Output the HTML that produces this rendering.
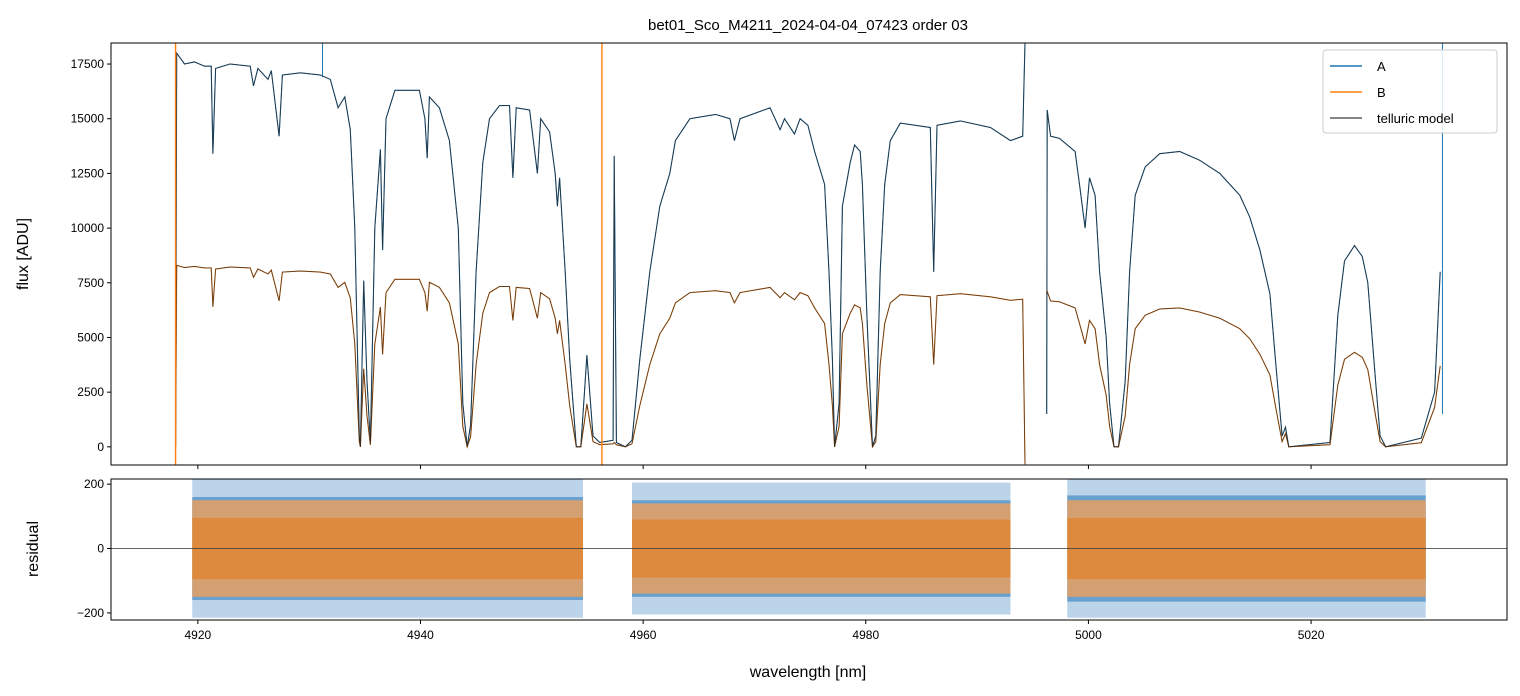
<!DOCTYPE html>
<html><head><meta charset="utf-8">
<style>
html,body{margin:0;padding:0;background:#fff;}
svg{display:block;font-family:"Liberation Sans","DejaVu Sans",sans-serif;}
</style></head>
<body>
<svg id="chart" width="1520" height="696" viewBox="0 0 1520 696">
<rect width="1520" height="696" fill="#fff"/>
<text x="808" y="30" text-anchor="middle" font-size="15" fill="#000">bet01_Sco_M4211_2024-04-04_07423  order 03</text>
<text transform="translate(28,254) rotate(-90)" text-anchor="middle" font-size="16" fill="#000">flux [ADU]</text>
<text transform="translate(38,549) rotate(-90)" text-anchor="middle" font-size="16" fill="#000">residual</text>
<text x="808" y="677" text-anchor="middle" font-size="16" fill="#000">wavelength [nm]</text>
<g id="main"></g>
<g id="res"></g>
<g id="legend">
<rect x="1323" y="50" width="174" height="83" fill="#fff" fill-opacity="0.85" stroke="#ccc" rx="3"/>
<line x1="1330" y1="66" x2="1362" y2="66" stroke="#1f77b4" stroke-width="1.5"/>
<text x="1377" y="71" font-size="13">A</text>
<line x1="1330" y1="92" x2="1362" y2="92" stroke="#ff7f0e" stroke-width="1.5"/>
<text x="1377" y="97" font-size="13">B</text>
<line x1="1330" y1="118" x2="1362" y2="118" stroke="#333" stroke-opacity="0.8" stroke-width="1.5"/>
<text x="1377" y="123" font-size="13">telluric model</text>
</g>
</svg>
<script>
const wl = [4918.0,4918.1,4918.8,4919.7,4920.6,4921.2,4921.35,4921.6,4922.9,4924.7,
4925.0,4925.4,4926.3,4926.6,4927.3,4927.6,4929.2,4931.0,4931.9,4932.6,
4933.2,4933.7,4934.1,4934.5,4934.6,4934.9,4935.2,4935.5,4935.9,4936.4,
4936.6,4936.9,4937.7,4939.9,4940.4,4940.6,4940.8,4941.7,4942.6,4943.4,
4943.8,4944.2,4944.5,4945.0,4945.6,4946.2,4947.1,4948.0,4948.3,4948.6,
4949.8,4950.5,4950.8,4951.6,4952.1,4952.3,4952.5,4953.0,4953.4,4954.0,
4954.4,4954.8,4954.95,4955.2,4955.5,4956.1,4957.3,4957.4,4957.6,4958.4,
4959.0,4959.7,4960.6,4961.5,4962.4,4962.9,4964.2,4966.5,4967.8,4968.2,
4968.7,4971.4,4972.3,4972.7,4973.6,4974.1,4974.8,4975.4,4976.3,4976.7,
4977.0,4977.2,4977.6,4977.9,4978.6,4979.0,4979.5,4979.7,4980.1,4980.6,
4980.9,4981.3,4981.7,4982.2,4983.1,4985.8,4986.1,4986.4,4988.5,4991.2,
4993.0,4994.1,4994.3,4995.0,4996.25,4996.3,4996.6,4997.4,4998.8,4999.2,
4999.7,5000.1,5000.6,5001.0,5001.6,5001.9,5002.3,5002.7,5003.3,5003.7,
5004.2,5005.1,5006.4,5008.2,5010.0,5011.8,5013.6,5014.5,5015.4,5016.3,
5016.8,5017.4,5017.7,5018.0,5021.7,5022.4,5023.0,5023.9,5024.6,5025.1,
5025.8,5026.2,5026.7,5029.9,5031.1,5031.6];
const fluxA = [0,18000,17500,17600,17400,17400,13400,17300,17500,17400,
16500,17300,16800,17200,14200,17000,17100,17000,16800,15500,
16000,14500,10000,500,0,7600,3000,200,10000,13600,
9000,15000,16300,16300,15000,13200,16000,15500,14000,10000,
2000,0,1000,8000,13000,15000,15600,15600,12300,15500,
15400,12500,15000,14400,12500,11000,12300,8000,4000,0,
0,3000,4200,2500,500,200,300,13300,200,0,
300,4000,8000,11000,12500,14000,15000,15200,15000,14000,
15000,15500,14500,15000,14300,15000,14700,13500,12000,8000,
4000,0,2000,11000,13000,13800,13500,12000,6000,0,
500,8000,12000,14000,14800,14600,8000,14700,14900,14600,
14000,14200,18500,null,1500,15400,14200,14100,13500,12000,
10000,12300,11500,8000,5000,2000,0,0,3000,8000,
11500,12800,13400,13500,13100,12500,11500,10500,9000,7000,
4000,500,900,0,200,6000,8500,9200,8700,7500,
3000,500,0,400,2500,8000];
const fluxB = [0,8300,8200,8250,8180,8180,6400,8130,8220,8180,
7750,8130,7900,8080,6670,7990,8040,7990,7900,7290,
7520,6800,4700,240,0,3570,1410,90,4700,6390,
4230,7050,7660,7660,7050,6200,7520,7290,6580,4700,
940,0,470,3760,6110,7050,7330,7330,5780,7290,
7240,5880,7050,6770,5880,5170,5780,3760,1880,0,
0,1410,1970,1180,240,100,140,200,100,0,
140,1880,3760,5170,5880,6580,7050,7140,7050,6580,
7050,7290,6820,7050,6720,7050,6910,6350,5640,3760,
1880,0,940,5170,6110,6490,6350,5640,2820,0,
240,3760,5640,6580,6960,6860,3760,6910,7000,6860,
6700,6750,-800,null,7000,7100,6670,6630,6350,5640,
4700,5780,5400,3760,2350,940,0,0,1410,3760,
5400,6020,6300,6350,6160,5880,5400,4940,4230,3290,
1880,240,600,0,100,2820,4000,4320,4090,3530,
1410,240,0,190,1800,3700];
const spikeAWl = [4931.2,5031.8];
const spikeALow = [16900,1500];
const spikeBWl = [4918.0,4956.3];
const xTicks = [4920,4940,4960,4980,5000,5020];
const yTicks = [0,2500,5000,7500,10000,12500,15000,17500];
const resTicks = [-200,0,200];
const resSegStart = [4919.5,4959.0,4998.1];
const resSegEnd = [4954.6,4993.0,5030.3];
const resOuterA = [215,205,215];
const resBandA = [160,150,165];
const resOuterB = [150,140,150];
const resBandB = [95,90,95];

const NS='http://www.w3.org/2000/svg';
const X0=111,X1=1507, WL0=4912.2, WL1=5037.6;
const sx = v => X0+(v-WL0)*(X1-X0)/(WL1-WL0);
const MT=43,MB=465, F0=-830, F1=18462;
const sy = v => MB-(v-F0)*(MB-MT)/(F1-F0);
const RT=479,RB=620, R0=-222, R1=216;
const sr = v => RB-(v-R0)*(RB-RT)/(R1-R0);
function mk(tag,attrs,parent){const e=document.createElementNS(NS,tag);for(const k in attrs)e.setAttribute(k,attrs[k]);parent.appendChild(e);return e;}
const main=document.getElementById('main'), res=document.getElementById('res');

const cp=mk('clipPath',{id:'cm'},main);
mk('rect',{x:X0,y:MT,width:X1-X0,height:MB-MT},cp);
const cg=mk('g',{'clip-path':'url(#cm)'},main);
const cpr=mk('clipPath',{id:'cr'},res);
mk('rect',{x:X0,y:RT,width:X1-X0,height:RB-RT},cpr);
const rg=mk('g',{'clip-path':'url(#cr)'},res);

function pathFrom(vals){let d='',pen=false;for(let i=0;i<wl.length;i++){if(vals[i]===null){pen=false;continue;}d+=(pen?'L':'M')+sx(wl[i]).toFixed(1)+' '+sy(vals[i]).toFixed(1);pen=true;}return d;}
let p=mk('path',{d:pathFrom(fluxA),fill:'none',stroke:'#1f77b4','stroke-width':1.1},cg);


p=mk('path',{d:pathFrom(fluxB),fill:'none',stroke:'#ff7f0e','stroke-width':1.1},cg);


p=mk('path',{d:pathFrom(fluxA),fill:'none',stroke:'#222','stroke-opacity':0.75,'stroke-width':0.9},cg);


p=mk('path',{d:pathFrom(fluxB),fill:'none',stroke:'#222','stroke-opacity':0.7,'stroke-width':0.9},cg);


spikeAWl.forEach((w,i)=>{const l=mk('line',{x1:sx(w),x2:sx(w),y1:sy(spikeALow[i]),y2:sy(F1),stroke:'#1f77b4','stroke-width':1},cg);

});
spikeBWl.forEach(w=>{const l=mk('line',{x1:sx(w),x2:sx(w),y1:sy(F0),y2:sy(F1),stroke:'#ff7f0e','stroke-width':1.4},cg);

});

function band(i,amp,fill,op,name){
  const r=mk('rect',{x:sx(resSegStart[i]),width:sx(resSegEnd[i])-sx(resSegStart[i]),y:sr(amp),height:sr(-amp)-sr(amp),fill:fill,'fill-opacity':op},rg);
  
  
}
for(let i=0;i<resSegStart.length;i++){
  band(i,resOuterA[i],'#8fb8dc',0.6,'residual-a-outer');
  band(i,resBandA[i],'#5a97c8',0.85,'residual-a-band');
  band(i,resOuterB[i],'#e9a060',0.85,'residual-b-outer');
  band(i,resBandB[i],'#de8a3e',1,'residual-b-band');
}
let z=mk('line',{x1:X0,x2:X1,y1:sr(0),y2:sr(0),stroke:'#333','stroke-width':0.7},res);



[[MT,MB,main],[RT,RB,res]].forEach(([t,b,g])=>{const f=mk('rect',{x:X0,y:t,width:X1-X0,height:b-t,fill:'none',stroke:'#000','stroke-width':1},g);

});

xTicks.forEach(v=>{
  const x=sx(v);
  mk('line',{x1:x,x2:x,y1:MB,y2:MB+4,stroke:'#000'},main);
  mk('line',{x1:x,x2:x,y1:RB,y2:RB+4,stroke:'#000'},res);
  const t=mk('text',{x:x,y:RB+19,'text-anchor':'middle','font-size':12},res);
  t.textContent=v;
  
  
});
yTicks.forEach(v=>{
  const y=sy(v);
  mk('line',{x1:X0-4,x2:X0,y1:y,y2:y,stroke:'#000'},main);
  const t=mk('text',{x:X0-7,y:y+4,'text-anchor':'end','font-size':12},main);
  t.textContent=v;
  
  
});
resTicks.forEach(v=>{
  const y=sr(v);
  mk('line',{x1:X0-4,x2:X0,y1:y,y2:y,stroke:'#000'},res);
  const t=mk('text',{x:X0-7,y:y+4,'text-anchor':'end','font-size':12},res);
  t.textContent=v===-200?'\u2212200':v;
  
  
});
</script>
</body></html>
